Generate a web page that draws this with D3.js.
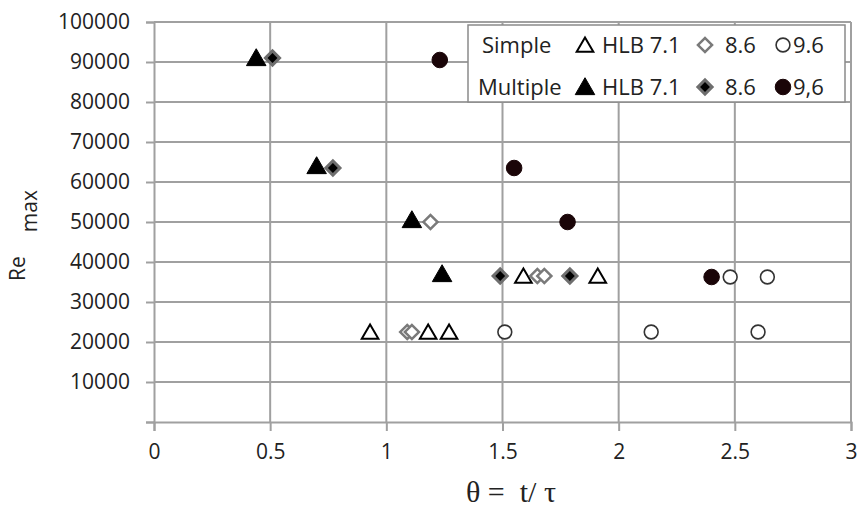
<!DOCTYPE html>
<html>
<head>
<meta charset="utf-8">
<script src="https://cdn.jsdelivr.net/npm/d3@7"></script>
<style>
  html, body { margin: 0; padding: 0; background: #fff; }
  svg { display: block; }
  text { fill: #222; }
</style>
</head>
<body>
<svg id="chart" width="857" height="510"></svg>
<script>
// ---- data ----
const xTicks = [0, 0.5, 1, 1.5, 2, 2.5, 3];
const xTickLabels = ["0", "0.5", "1", "1.5", "2", "2.5", "3"];
const yTicks = [0, 10000, 20000, 30000, 40000, 50000, 60000, 70000, 80000, 90000, 100000];

const simple71X = [0.93, 1.18, 1.27, 1.59, 1.91];
const simple71Y = [22500, 22500, 22500, 36500, 36500];
const simple86X = [1.09, 1.11, 1.19, 1.65, 1.68];
const simple86Y = [22500, 22500, 50000, 36500, 36500];
const simple96X = [1.51, 2.14, 2.60, 2.48, 2.64];
const simple96Y = [22500, 22500, 22500, 36250, 36250];
const multi71X = [0.44, 0.70, 1.11, 1.24];
const multi71Y = [91000, 64000, 50500, 37000];
const multi86X = [0.51, 0.77, 1.49, 1.79];
const multi86Y = [91000, 63500, 36500, 36500];
const multi96X = [1.23, 1.55, 1.78, 2.40];
const multi96Y = [90500, 63500, 50000, 36250];

const legendRows = ["Simple", "Multiple"];
const legendLabels = [["HLB 7.1", "8.6", "9.6"], ["HLB 7.1", "8.6", "9,6"]];

// ---- drawing ----
const SANS = "'Open Sans', sans-serif";
const SERIF = "'Liberation Serif', 'DejaVu Serif', serif";
const svg = d3.select("#chart");
const x = d3.scaleLinear().domain([0, 3]).range([154, 851]);
const y = d3.scaleLinear().domain([0, 100000]).range([422, 22]);
const grid = "#a0a0a0";

// gridlines
svg.append("g").selectAll("line").data(yTicks.filter(d => d > 0)).join("line")
  .attr("x1", x(0)).attr("x2", x(3)).attr("y1", d => y(d)).attr("y2", d => y(d))
  .attr("stroke", grid).attr("stroke-width", 2);
svg.append("g").selectAll("line").data(xTicks.filter(d => d > 0)).join("line")
  .attr("x1", d => x(d)).attr("x2", d => x(d)).attr("y1", y(0)).attr("y2", y(100000))
  .attr("stroke", grid).attr("stroke-width", 2);

// axes
const yAxis = d3.axisLeft(y).tickValues(yTicks).tickSize(8).tickPadding(16)
  .tickFormat(d => d === 0 ? "" : String(d));
const gy = svg.append("g").attr("transform", `translate(${x(0)},0)`).call(yAxis);
gy.select(".domain").attr("stroke", grid).attr("stroke-width", 2);
gy.selectAll(".tick line").attr("stroke", grid).attr("stroke-width", 2);
gy.selectAll(".tick text").style("font-size", "21px").style("font-family", SANS).attr("fill", "#222");

const xAxis = d3.axisBottom(x).tickValues(xTicks).tickSize(9).tickPadding(13)
  .tickFormat((d, i) => xTickLabels[i]);
const gx = svg.append("g").attr("transform", `translate(0,${y(0)})`).call(xAxis);
gx.select(".domain").attr("stroke", grid).attr("stroke-width", 2);
gx.selectAll(".tick line").attr("stroke", grid).attr("stroke-width", 2);
gx.selectAll(".tick text").style("font-size", "21px").style("font-family", SANS).attr("fill", "#222");

// axis titles
const yt = svg.append("text").attr("transform", "translate(25,281) rotate(-90)")
  .style("font-size", "21px").style("font-family", SANS);
yt.append("tspan").text("Re");
yt.append("tspan").attr("dx", 24).attr("dy", 12).text("max");

svg.append("text").attr("x", 511).attr("y", 502).attr("text-anchor", "middle")
  .style("font-family", SERIF).style("font-size", "30px").style("white-space", "pre")
  .text("θ =  t/ τ");

// marker styles
const styles = {
  s71: {type: d3.symbolTriangle, size: 120, fill: "#fff", stroke: "#000", sw: 2, rot: 0},
  s86: {type: d3.symbolSquare, size: 100, fill: "#fff", stroke: "#7a7a7a", sw: 2.5, rot: 45},
  s96: {type: d3.symbolCircle, size: 150, fill: "#fff", stroke: "#333", sw: 1.6, rot: 0},
  m71: {type: d3.symbolTriangle, size: 165, fill: "#000", stroke: "#000", sw: 1, rot: 0},
  m86: {type: d3.symbolSquare, size: 100, fill: "#000", stroke: "#6e6e6e", sw: 3, rot: 45},
  m96: {type: d3.symbolCircle, size: 190, fill: "#1a0508", stroke: "#1a0508", sw: 1, rot: 0}
};

function drawSeries(xs, ys, st) {
  const pts = xs.map((v, i) => ({x: v, y: ys[i]}));
  svg.append("g").selectAll("path").data(pts).join("path")
    .attr("d", d3.symbol().type(st.type).size(st.size))
    .attr("transform", d => `translate(${x(d.x)},${y(d.y) + (st.type === d3.symbolTriangle ? 2 : 0)}) rotate(${st.rot})`)
    .attr("fill", st.fill).attr("stroke", st.stroke).attr("stroke-width", st.sw)
    .attr("stroke-linejoin", "miter");
}

drawSeries(simple71X, simple71Y, styles.s71);
drawSeries(simple86X, simple86Y, styles.s86);
drawSeries(simple96X, simple96Y, styles.s96);
drawSeries(multi71X, multi71Y, styles.m71);
drawSeries(multi86X, multi86Y, styles.m86);
drawSeries(multi96X, multi96Y, styles.m96);

// legend
const lg = svg.append("g");
lg.append("rect").attr("x", 468).attr("y", 25).attr("width", 377).attr("height", 77)
  .attr("fill", "#fff").attr("stroke", "#8a8a8a").attr("stroke-width", 1.5);
const rowY = [45, 87];
const rowTextX = [482, 478];
const symX = [585, 705, 783];
const labX = [602, 725, 793];
const rowStyles = [[styles.s71, styles.s86, styles.s96], [styles.m71, styles.m86, styles.m96]];
legendRows.forEach((r, ri) => {
  lg.append("text").attr("x", rowTextX[ri]).attr("y", rowY[ri] + 8)
    .style("font-size", "22px").style("font-family", SANS).text(r);
  rowStyles[ri].forEach((st, si) => {
    lg.append("path").attr("d", d3.symbol().type(st.type).size(st.size))
      .attr("transform", `translate(${symX[si]},${rowY[ri] + (st.type === d3.symbolTriangle ? 2 : 0)}) rotate(${st.rot})`)
      .attr("fill", st.fill).attr("stroke", st.stroke).attr("stroke-width", st.sw);
    lg.append("text").attr("x", labX[si]).attr("y", rowY[ri] + 8)
      .style("font-size", "22px").style("font-family", SANS)
      .text(legendLabels[ri][si]);
  });
});
</script>
</body>
</html>
